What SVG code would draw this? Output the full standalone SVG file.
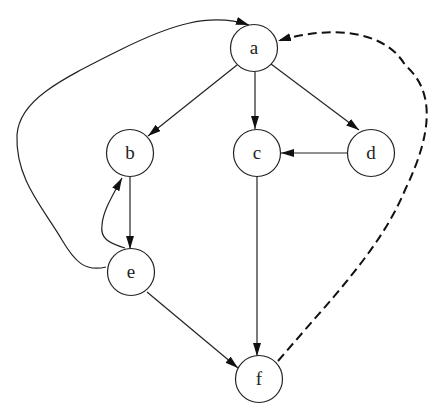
<svg xmlns="http://www.w3.org/2000/svg" width="447" height="416" viewBox="0 0 447 416">
<style>
.node circle{fill:#fff;stroke:#222;stroke-width:1.2}
.node text{font-family:"Liberation Serif","Times New Roman",serif;font-size:19px;fill:#222;text-anchor:middle;dominant-baseline:central}
.edge{fill:none;stroke:#222;stroke-width:1.2;marker-end:url(#arr)}
.dash{fill:none;stroke:#111;stroke-width:2;stroke-dasharray:9 5;marker-end:url(#arr)}
</style>
<defs>
<marker id="arr" markerUnits="userSpaceOnUse" markerWidth="14" markerHeight="10" refX="13" refY="4" orient="auto">
<path d="M0,0 L13,4 L0,8 z" fill="#111"/>
</marker>
</defs>
<rect width="447" height="416" fill="#fff"/>
<g id="connectors">
<path class="edge" d="M237,65 L148,136"/>
<path class="edge" d="M255,72 L255,129"/>
<path class="edge" d="M271,64 L359,130"/>
<path class="edge" d="M348,153 L281,153"/>
<path class="edge" d="M130,176 L130,249"/>
<path class="edge" d="M125,248 C108,243 100,238 102,225 C103,212 110,200 122,178"/>
<path class="edge" d="M106,267 C85,272 75,262 62,240 C45,210 15,180 17,135 C19,100 60,80 120,50 C170,25 210,12 249,25"/>
<path class="edge" d="M147,292 L238,368"/>
<path class="edge" d="M257,176 L257,356"/>
<path class="dash" d="M278,361 C330,300 380,250 405,190 C434,130 434,90 405,65 C385,30 330,25 278,41"/>
</g>
<g id="node-a" class="node"><circle cx="254" cy="48" r="23.5"/><text x="254" y="47">a</text></g>
<g id="node-b" class="node"><circle cx="130" cy="153" r="23.5"/><text x="130" y="152">b</text></g>
<g id="node-c" class="node"><circle cx="257" cy="153" r="23.5"/><text x="257" y="152">c</text></g>
<g id="node-d" class="node"><circle cx="371" cy="153" r="23.5"/><text x="371" y="152">d</text></g>
<g id="node-e" class="node"><circle cx="131" cy="272" r="23.5"/><text x="131" y="271">e</text></g>
<g id="node-f" class="node"><circle cx="259" cy="379" r="23.5"/><text x="259" y="378">f</text></g>
</svg>
